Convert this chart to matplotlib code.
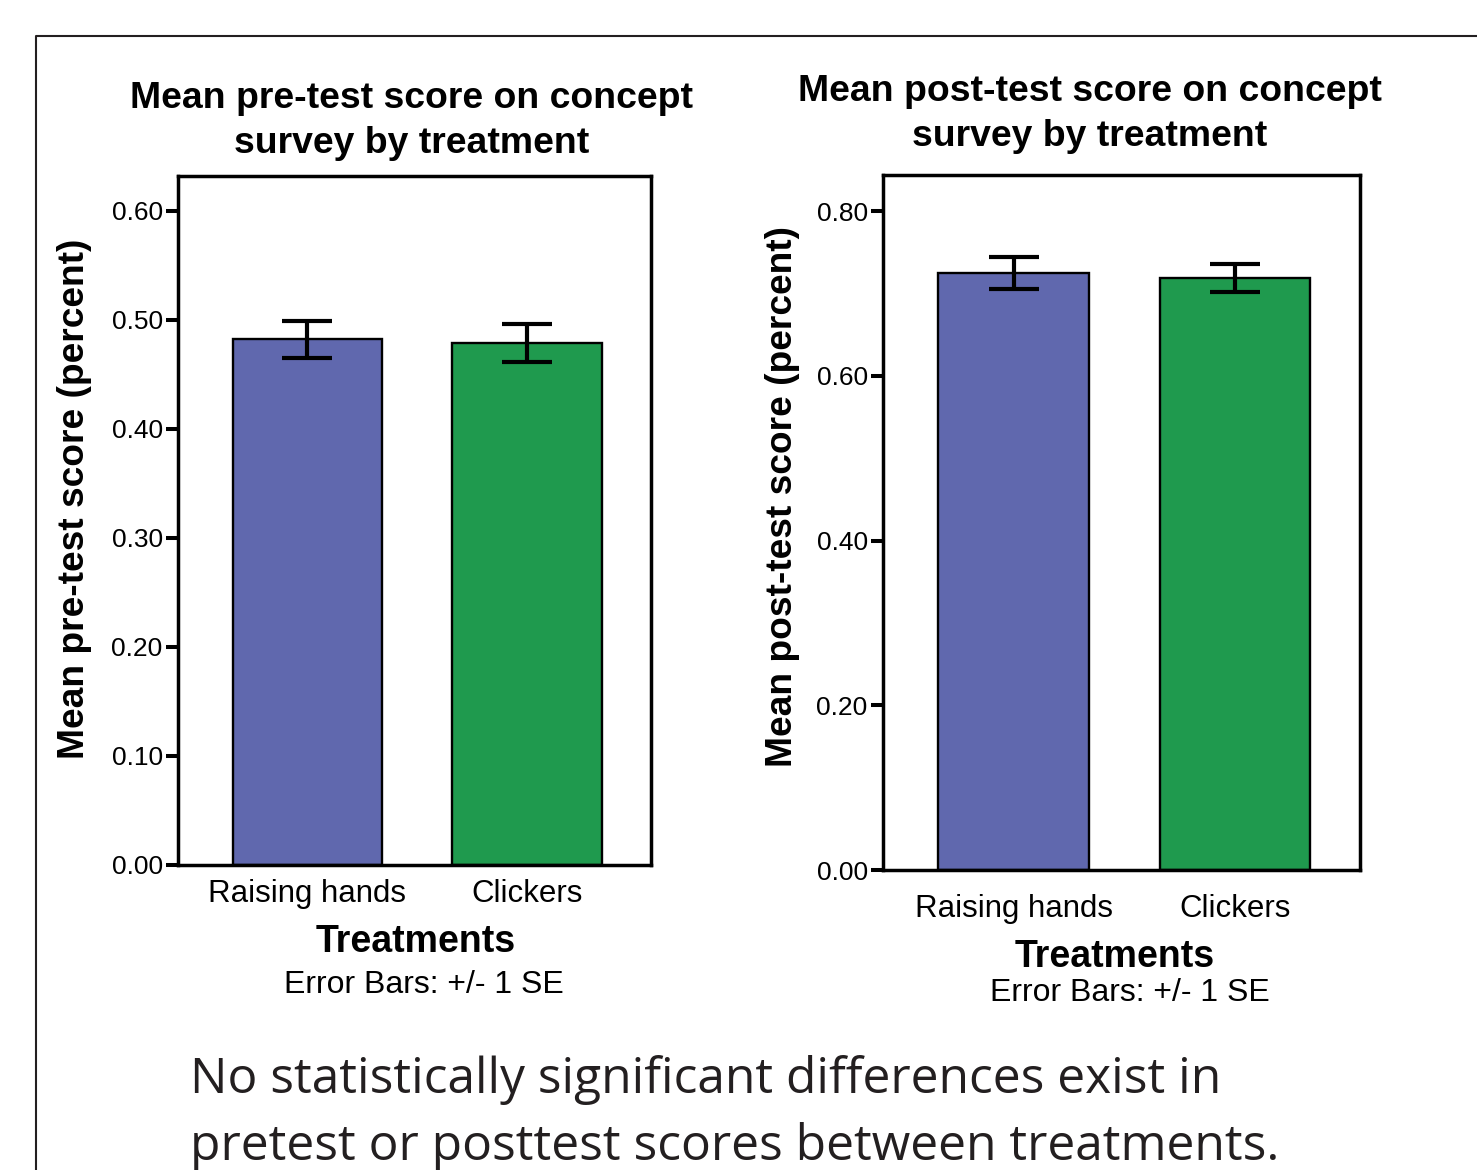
import matplotlib
matplotlib.use("Agg")
import matplotlib.pyplot as plt
from matplotlib.lines import Line2D

plt.rcParams['font.family'] = ['Liberation Sans', 'DejaVu Sans']

# Treatment groups and mean scores (with standard errors)
treatments = ['Raising hands', 'Clickers']
pre_means = [0.482, 0.479]
pre_se = [0.0168, 0.0176]
post_means = [0.725, 0.719]
post_se = [0.0195, 0.0168]

bar_colors = ['#6068AE', '#1F9A4E']
ink = '#000000'

fig = plt.figure(figsize=(14.77, 11.7), dpi=100)

# outer frame line (left and top edges only, rest runs off the page)
fx = 36 / 1477
fy = 1 - 36 / 1170
fig.add_artist(Line2D([fx, fx, 1.0], [0.0, fy, fy], transform=fig.transFigure,
                      color='#231F20', linewidth=1.5))


def draw_panel(ax, means, errs, ylim, yticks, ylabel, tick_pad, label_xy):
    x = [0, 1]
    ax.bar(x, means, width=0.68, color=bar_colors, edgecolor=ink, linewidth=1.7, zorder=2)
    ax.errorbar(x, means, yerr=errs, fmt='none', ecolor=ink, elinewidth=3,
                capsize=18, capthick=3, zorder=3)
    ax.set_xlim(-0.59, 1.565)
    ax.set_ylim(*ylim)
    ax.set_yticks(yticks)
    ax.set_yticklabels(['%.2f' % t for t in yticks], fontsize=19)
    ax.tick_params(axis='y', length=9, width=2.9, pad=2, direction='out')
    ax.set_xticks(x)
    ax.set_xticklabels(treatments, fontsize=22.5)
    ax.tick_params(axis='x', length=0, pad=tick_pad)
    for sp in ax.spines.values():
        sp.set_linewidth(2.5)
        sp.set_color(ink)
    ax.set_ylabel(ylabel, fontsize=26.7, fontweight='bold')
    ax.yaxis.set_label_coords(*label_xy)


ax1 = fig.add_axes([0.1205, 0.2607, 0.3202, 0.5889])
draw_panel(ax1, pre_means, pre_se, (0, 0.632), [0.0, 0.1, 0.2, 0.3, 0.4, 0.5, 0.6],
           'Mean pre-test score (percent)', 10, (-0.182, 0.531))

ax2 = fig.add_axes([0.5978, 0.2564, 0.3230, 0.5940])
draw_panel(ax2, post_means, post_se, (0, 0.8437), [0.0, 0.2, 0.4, 0.6, 0.8],
           'Mean post-test score (percent)', 17, (-0.174, 0.537))

# panel titles
fig.text(412 / 1477, 1 - 121 / 1170, 'Mean pre-test score on concept\nsurvey by treatment',
         ha='center', va='center', fontsize=26.9, fontweight='bold', linespacing=1.37)
fig.text(1090 / 1477, 1 - 114 / 1170, 'Mean post-test score on concept\nsurvey by treatment',
         ha='center', va='center', fontsize=26.9, fontweight='bold', linespacing=1.37)

# x axis titles and error bar notes
fig.text(416 / 1477, 1 - 942 / 1170, 'Treatments', ha='center', va='center',
         fontsize=27, fontweight='bold')
fig.text(424 / 1477, 1 - 985 / 1170, 'Error Bars: +/- 1 SE', ha='center', va='center',
         fontsize=23)
fig.text(1115 / 1477, 1 - 957 / 1170, 'Treatments', ha='center', va='center',
         fontsize=27, fontweight='bold')
fig.text(1130 / 1477, 1 - 993 / 1170, 'Error Bars: +/- 1 SE', ha='center', va='center',
         fontsize=23)

# summary statement
summary_font = ['Open Sans', 'DejaVu Sans']
fig.text(190 / 1477, 1 - 1093 / 1170, 'No statistically significant differences exist in',
         ha='left', va='baseline', fontsize=35.8, color='#231F20', family=summary_font)
fig.text(190 / 1477, 1 - 1160 / 1170, 'pretest or posttest scores between treatments.',
         ha='left', va='baseline', fontsize=35.8, color='#231F20', family=summary_font)

fig.savefig('out.png', dpi=100, facecolor='white')
